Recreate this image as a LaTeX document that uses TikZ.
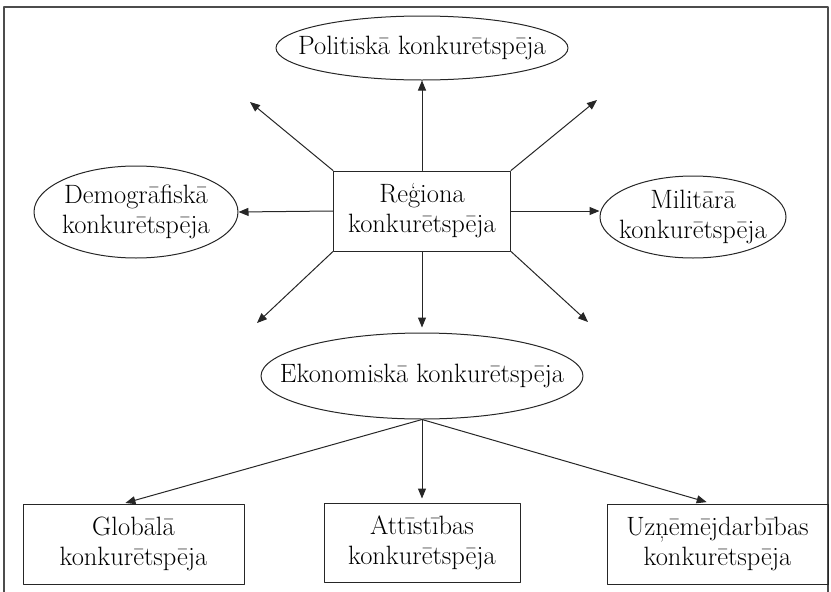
\documentclass[tikz,border=0pt]{standalone}
\usepackage{tikz}
\usetikzlibrary{arrows.meta,shapes.geometric}
\begin{document}
\begin{tikzpicture}[line cap=round,line join=round,>={Triangle[length=10pt,width=8pt]},x=1pt,y=-1pt,
  oval/.style={ellipse,draw=black!85,line width=1pt,inner sep=0pt},
  ovaltext/.style={align=center,font=\fontsize{26.5}{30}\selectfont},
  boxed/.style={rectangle,draw=black!85,line width=1pt,inner sep=0pt,align=center,font=\fontsize{26.5}{30}\selectfont},
  link/.style={->,line width=1pt,draw=black!85}]
\useasboundingbox (0,0) rectangle (831,592);
\draw [line width=1.2pt,black!70] (4,600)-- (4,7)-- (828,7)-- (828,600);
% top row
\node[oval,minimum width=292pt,minimum height=64pt,label={[ovaltext]center:Politiskā konkurētspēja}] (politiska) at (422,48) {};
\node[boxed,minimum width=177pt,minimum height=80pt] (regiona) at (422,211) {Reģiona\\konkurētspēja};
\node[oval,minimum width=204pt,minimum height=92pt,label={[ovaltext]center:Demogrāfiskā\\konkurētspēja}] (demografiska) at (136,212) {};
\node[oval,minimum width=186pt,minimum height=82pt,label={[ovaltext]center:Militārā\\konkurētspēja}] (militara) at (693,217) {};
\node[oval,minimum width=322pt,minimum height=86pt,label={[ovaltext]center:Ekonomiskā konkurētspēja}] (ekonomiska) at (422,376) {};
% bottom row
\node[boxed,minimum width=221pt,minimum height=80pt] (globala) at (133.5,544) {Globālā\\konkurētspēja};
\node[boxed,minimum width=196pt,minimum height=79pt] (attistibas) at (422,542.5) {Attīstības\\konkurētspēja};
\node[boxed,minimum width=221pt,minimum height=80pt] (uznemejdarbibas) at (717.5,544) {Uzņēmējdarbības\\konkurētspēja};
% free ends
\coordinate (nw) at (250,102);
\coordinate (ne) at (597,100);
\coordinate (sw) at (257,323);
\coordinate (se) at (588,322);
\draw [link] (regiona.north)-- (politiska.south);
\draw [link] (regiona.west)-- (demografiska.east);
\draw [link] (regiona.east)-- (regiona.east -| militara.west);
\draw [link,shorten >=5pt] (regiona.south)-- (ekonomiska.north);
\draw [link] (regiona.north west)-- (nw);
\draw [link] (regiona.north east)-- (ne);
\draw [link] (regiona.south west)-- (sw);
\draw [link] (regiona.south east)-- (se);
\draw [link,shorten >=2pt] (ekonomiska.south)-- ([xshift=-10pt]globala.north);
\draw [link,shorten >=4pt] (ekonomiska.south)-- (attistibas.north);
\draw [link,shorten >=5pt] (ekonomiska.south)-- ([xshift=-6pt]uznemejdarbibas.north);
\end{tikzpicture}
\end{document}
